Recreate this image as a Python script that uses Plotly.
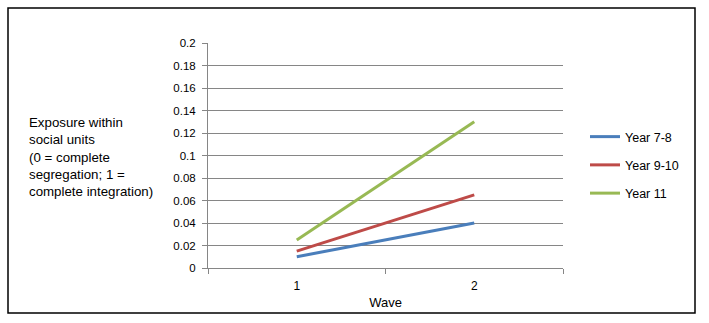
import plotly.graph_objects as go

waves = [1, 2]
wave_labels = ["1", "2"]
series_names = ["Year 7-8", "Year 9-10", "Year 11"]
year_7_8 = [0.01, 0.04]
year_9_10 = [0.015, 0.065]
year_11 = [0.025, 0.13]
y_ticks = [0, 0.02, 0.04, 0.06, 0.08, 0.1, 0.12, 0.14, 0.16, 0.18, 0.2]
y_tick_labels = ["0", "0.02", "0.04", "0.06", "0.08", "0.1", "0.12", "0.14", "0.16", "0.18", "0.2"]
colors = ["#4A7EBB", "#BE4B48", "#98B954"]

FONT = "Liberation Sans"
W, H = 709, 323
L, R, T, B = 208, 146, 43, 55
pw, ph = W - L - R, H - T - B

fig = go.Figure()
for name, vals, c in zip(series_names, [year_7_8, year_9_10, year_11], colors):
    fig.add_trace(go.Scatter(x=waves, y=vals, name=name, mode="lines",
                             line=dict(color=c, width=3), legendgroup=name))

# outer border
fig.add_shape(type="rect", xref="paper", yref="paper",
              x0=(8 - L) / pw, x1=(695 - L) / pw,
              y0=-(313 - (H - B)) / ph, y1=((H - B) - 8) / ph,
              line=dict(color="black", width=1.5), layer="below")

fig.add_annotation(xref="paper", yref="paper", x=(27 - L) / pw, y=((H - B) - 157) / ph,
                   xanchor="left", yanchor="middle", align="left", showarrow=False,
                   text="Exposure within<br>social units<br>(0 = complete<br>segregation; 1 =<br>complete integration)",
                   font=dict(family=FONT, size=13.3, color="black"))

fig.update_layout(
    width=W, height=H, margin=dict(l=L, r=R, t=T, b=B),
    paper_bgcolor="white", plot_bgcolor="white",
    font=dict(family=FONT, size=11.5, color="black"),
    showlegend=True,
    legend=dict(x=(585 - L) / pw, xanchor="left", y=((H - B) - 122) / ph, yanchor="top",
                tracegroupgap=9, bgcolor="rgba(0,0,0,0)", itemwidth=30,
                font=dict(family=FONT, size=12.5)),
    xaxis=dict(range=[0.5, 2.5], tickvals=waves, ticktext=wave_labels, showgrid=False,
               showline=True, linecolor="#868686", linewidth=1, ticks="",
               ticklabelstandoff=7, zeroline=False,
               tickfont=dict(family=FONT, size=12),
               minor=dict(ticks="outside", tick0=0.5, dtick=1, ticklen=5, tickcolor="#868686"),
               title=dict(text="Wave", standoff=5, font=dict(family=FONT, size=13))),
    yaxis=dict(range=[0, 0.2], tickvals=y_ticks, ticktext=y_tick_labels,
               showgrid=True, gridcolor="#868686", gridwidth=1,
               showline=True, linecolor="#868686", linewidth=1,
               ticks="outside", ticklen=5, tickcolor="#868686", zeroline=False,
               ticklabelstandoff=4),
)

fig.write_html("out.html")
